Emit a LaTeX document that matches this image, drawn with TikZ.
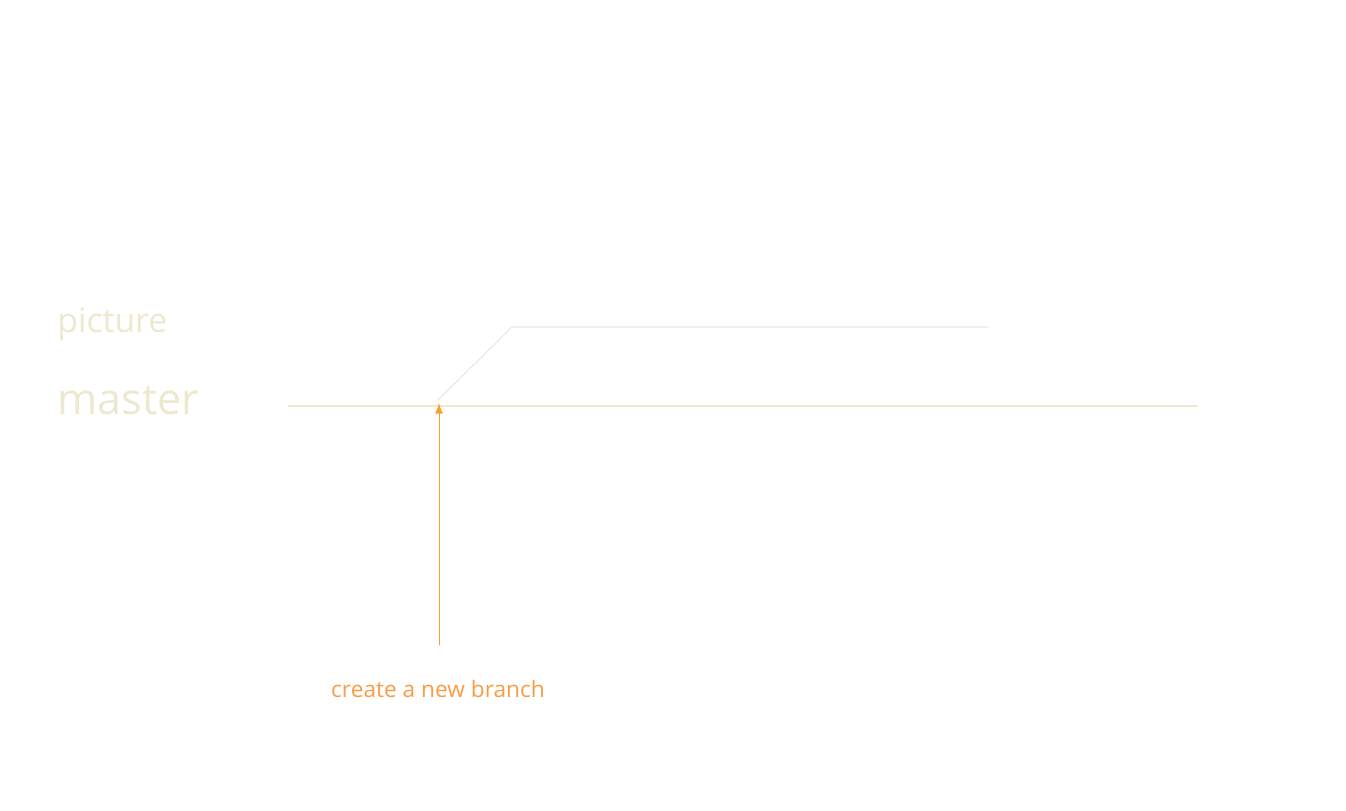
\documentclass[tikz,border=0pt]{standalone}
\usepackage{fontspec}
\setmainfont{Open Sans}
\usetikzlibrary{arrows.meta}

\definecolor{labelbeige}{HTML}{EEE8CF}
\definecolor{masterline}{HTML}{F2E6D0}
\definecolor{branchline}{HTML}{EAE6DC}
\definecolor{arroworange}{HTML}{F5A42A}
\definecolor{textorange}{HTML}{F89D44}

\begin{document}
\begin{tikzpicture}[x=0.02cm, y=-0.02cm, line cap=round, line join=round]

% --- Styles ---
\tikzset{
    branchname/.style={
        text=labelbeige,
        inner sep=0pt
    },
    masterrail/.style={
        draw=masterline,
        line width=0.6pt
    },
    branchrail/.style={
        draw=branchline,
        line width=0.6pt
    },
    pointer/.style={
        -{Latex[length=6pt, width=4.5pt]},
        draw=arroworange,
        line width=0.45pt
    },
    note/.style={
        text=textorange,
        inner sep=0pt,
        font=\fontsize{12.9}{15}\selectfont
    }
}

% --- Canvas ---
\useasboundingbox (0,0) rectangle (1346,811);

% =========================================================================
% --- Branch names ---
% =========================================================================
\node[branchname, anchor=base west, font=\fontsize{19.2}{23}\selectfont] (picture) at (57,332) {picture};
\node[branchname, anchor=base west, font=\fontsize{24.6}{29}\selectfont] (master) at (57,414) {master};

% =========================================================================
% --- Rails ---
% =========================================================================
\coordinate (masterstart) at (288,406);
\coordinate (masterend) at (1197,406);
\coordinate (fork) at (438,400);
\coordinate (bend) at (512,327);
\coordinate (pictureend) at (988,327);

\draw[masterrail] (masterstart) -- (masterend);   % master line
\draw[branchrail] (fork) -- (bend) -- (pictureend); % picture branch

% =========================================================================
% --- Annotation ---
% =========================================================================
\node[note, anchor=base] (newbranch) at (438,697) {create a new branch};
\coordinate (arrowtail) at (439,645);
\coordinate (arrowhead) at (439,403);
\draw[pointer] (arrowtail) -- (arrowhead);

\end{tikzpicture}
\end{document}
